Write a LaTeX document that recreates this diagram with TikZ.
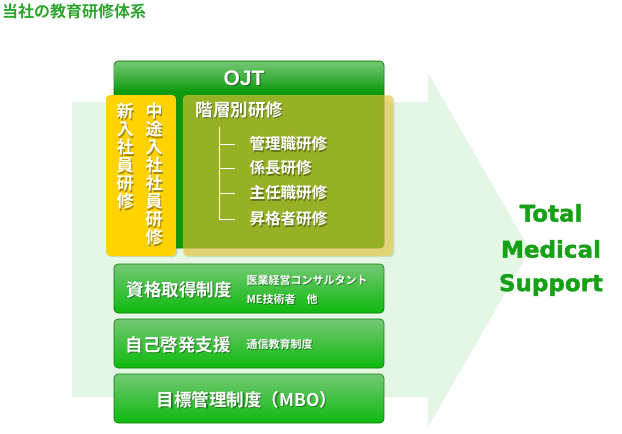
\documentclass[tikz,border=0pt]{standalone}
\usepackage{fontspec}
\setmainfont{Liberation Sans}
\newfontfamily\jp{Noto Sans CJK JP}[BoldFont={Noto Sans CJK JP Bold}]
\newfontfamily\jpb{Noto Sans CJK JP Bold}
\newfontfamily\dejab{DejaVu Sans}[BoldFont={DejaVu Sans Bold}, BoldFeatures={FakeBold=1.6}]
\usetikzlibrary{calc}
\definecolor{arrowbg}{HTML}{E4F7E4}
\definecolor{gdark}{HTML}{0C9A0C}
\definecolor{gtop}{HTML}{74C874}
\definecolor{gmid}{HTML}{139F13}
\definecolor{gbot}{HTML}{0DBA0D}
\definecolor{gold}{HTML}{FFD200}
\definecolor{ylw}{HTML}{F2CE3A}
\definecolor{tgreen}{HTML}{16A016}
\definecolor{titlegreen}{HTML}{2BA52B}
\tikzset{
  gbox/.style={rounded corners=4pt, draw=gdark!80!black, line width=0.6pt,
    top color=gtop, middle color=gmid, bottom color=gbot},
  wtext/.style={text=white, font=\jpb},
  shadowtext/.style={text=black, opacity=0.35, font=\jpb},
  tms/.style={text=tgreen, font=\dejab\bfseries\fontsize{23}{23}\selectfont},
}
\newcommand{\stext}[4]{% name, position, size, text
  \node[shadowtext, font=\jpb\fontsize{#3}{#3}\selectfont, anchor=west] at ($(#2)+(1.2,1.2)$) {#4};
  \node[wtext, font=\jpb\fontsize{#3}{#3}\selectfont, anchor=west] (#1) at (#2) {#4};}
\begin{document}
\begin{tikzpicture}[x=1pt,y=-1pt]
\useasboundingbox (0,0) rectangle (622,434);
% title
\node[anchor=west, text=titlegreen, font=\jpb\fontsize{16}{16}\selectfont, inner sep=0] (title) at (2,11) {当社の教育研修体系};
% big arrow
\fill[arrowbg] (72,102) -- (428,102) -- (428,73) -- (530,250) -- (428,427) -- (428,397) -- (72,397) -- cycle;
% OJT box
\path[rounded corners=4pt, fill=gdark, draw=gdark!80!black, line width=0.6pt] (114,61) rectangle (384,248);
\shade[rounded corners=4pt, top color=gtop, bottom color=gdark] (114.5,61.5) rectangle (383.5,92);
\node[shadowtext, font=\bfseries\fontsize{21}{21}\selectfont] at (245.2,79.2) {OJT};
\node[text=white, font=\bfseries\fontsize{21}{21}\selectfont] (ojt) at (244,78) {OJT};
% yellow box 1
\fill[black, opacity=0.12, rounded corners=4pt] (107,96) rectangle (177.5,257);
\fill[gold, rounded corners=4pt] (106,95) rectangle (176,256);
% yellow translucent box
\fill[black, opacity=0.10, rounded corners=4pt] (184,96) rectangle (394.5,257);
\fill[ylw, opacity=0.6, rounded corners=4pt] (183,95) rectangle (393,256);
% vertical texts
\node[shadowtext, font=\jpb\fontsize{17}{18}\selectfont, align=center, anchor=north] at (126.2,101.2) {新\\入\\社\\員\\研\\修};
\node[wtext, font=\jpb\fontsize{17}{18}\selectfont, align=center, anchor=north] (shinnyu) at (125,100) {新\\入\\社\\員\\研\\修};
\node[shadowtext, font=\jpb\fontsize{17}{18}\selectfont, align=center, anchor=north] at (155.2,101.2) {中\\途\\入\\社\\社\\員\\研\\修};
\node[wtext, font=\jpb\fontsize{17}{18}\selectfont, align=center, anchor=north] (chuto) at (154,100) {中\\途\\入\\社\\社\\員\\研\\修};
% 階層別研修
\coordinate (p0) at (192,110);
\stext{kaiso}{p0}{17.5}{階層別研修}
\coordinate (b1) at (219,144);
\coordinate (b2) at (219,168);
\coordinate (b3) at (219,193);
\coordinate (b4) at (219,219);
\coordinate (e1) at (235,144);
\coordinate (e2) at (235,168);
\coordinate (e3) at (235,193);
\coordinate (e4) at (235,219);
\draw[white, line width=0.8pt] (219,127) -- (b4);
\foreach \i in {1,...,4} \draw[white, line width=0.8pt] (b\i) -- (e\i);
\coordinate (t1) at (246,144);
\coordinate (t2) at (246,168);
\coordinate (t3) at (246,193);
\coordinate (t4) at (246,219);
\stext{kanri}{t1}{15.5}{管理職研修}
\stext{kakari}{t2}{15.5}{係長研修}
\stext{shunin}{t3}{15.5}{主任職研修}
\stext{shokaku}{t4}{15.5}{昇格者研修}
% bottom boxes
\path[gbox] (114,264) rectangle (384,313);
\path[gbox] (114,319) rectangle (384,368);
\path[gbox] (114,374) rectangle (384,423);
\coordinate (q1) at (123,290);
\stext{shikaku}{q1}{17.5}{資格取得制度}
\coordinate (q2) at (243,280);
\stext{ime}{q2}{11}{医業経営コンサルタント}
\coordinate (q3) at (243,299);
\stext{me}{q3}{11}{ME技術者　他}
\coordinate (q4) at (122,345);
\stext{jiko}{q4}{17.5}{自己啓発支援}
\coordinate (q5) at (243,344);
\stext{tsushin}{q5}{11}{通信教育制度}
\node[shadowtext, font=\jpb\fontsize{17.5}{17.5}\selectfont] at (248.2,401.2) {目標管理制度（MBO）};
\node[wtext, font=\jpb\fontsize{17.5}{17.5}\selectfont] (mbo) at (247,400) {目標管理制度（MBO）};
% Total Medical Support
\node[tms] (total) at (551,213) {Total};
\node[tms] (medical) at (551,249) {Medical};
\node[tms] (support) at (551,285) {Support};
\end{tikzpicture}
\end{document}
